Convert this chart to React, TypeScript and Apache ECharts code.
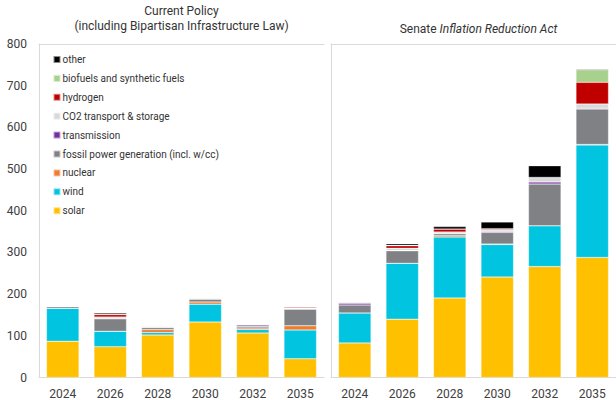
import React, { useEffect, useRef } from "react";
import * as echarts from "echarts";

const categories = ["2024", "2026", "2028", "2030", "2032", "2035"];
const seriesNames = [
  "solar",
  "wind",
  "nuclear",
  "fossil power generation (incl. w/cc)",
  "transmission",
  "CO2 transport & storage",
  "hydrogen",
  "biofuels and synthetic fuels",
  "other",
];
const legendOrder = [
  "other",
  "biofuels and synthetic fuels",
  "hydrogen",
  "CO2 transport & storage",
  "transmission",
  "fossil power generation (incl. w/cc)",
  "nuclear",
  "wind",
  "solar",
];
const colors = ["#FFC000", "#00C4E0", "#ED7D31", "#808184", "#7030A0", "#D9D9D9", "#C00000", "#A9D18E", "#000000"];
const yTicks = [0, 100, 200, 300, 400, 500, 600, 700, 800];

// Current Policy
const curSolar = [87, 74, 102, 133, 107, 45];
const curWind = [79, 37, 6, 43, 8, 69];
const curNuclear = [0, 0, 7, 5, 4, 10];
const curFossil = [4, 30, 5, 7, 4, 40];
const curTransmission = [1, 0, 1, 1, 3, 1];
const curCO2 = [2, 4, 2, 2, 2, 1];
const curHydrogen = [0, 6, 0, 0, 0, 3];
const curBiofuels = [0, 1, 0, 0, 0, 0];
const curOther = [1, 3, 0, 0, 1, 0];

// Senate Inflation Reduction Act
const iraSolar = [83, 140, 191, 241, 266, 288];
const iraWind = [72, 134, 146, 78, 98, 270];
const iraNuclear = [0, 0, 3, 1, 0, 1];
const iraFossil = [19, 30, 5, 28, 100, 85];
const iraTransmission = [4, 1, 0, 2, 5, 2];
const iraCO2 = [3, 5, 4, 4, 10, 10];
const iraHydrogen = [0, 6, 7, 2, 1, 52];
const iraBiofuels = [0, 1, 0, 1, 0, 30];
const iraOther = [1, 4, 6, 16, 28, 2];

const curData = [curSolar, curWind, curNuclear, curFossil, curTransmission, curCO2, curHydrogen, curBiofuels, curOther];
const iraData = [iraSolar, iraWind, iraNuclear, iraFossil, iraTransmission, iraCO2, iraHydrogen, iraBiofuels, iraOther];

const FONT = "Roboto";
const AXIS_GRAY = "#D9D9D9";

export default function App() {
  const ref = useRef<HTMLDivElement>(null);
  useEffect(() => {
    if (!ref.current) return;
    const chart = echarts.init(ref.current, null, { renderer: "svg" });
    const mkSeries = (data: number[][], idx: number, stack: string) =>
      data.map((d, i) => ({
        name: seriesNames[i],
        type: "bar",
        stack,
        xAxisIndex: idx,
        yAxisIndex: idx,
        barWidth: "68.5%",
        data: d,
        itemStyle: { color: colors[i], borderColor: "rgba(255,255,255,0.55)", borderWidth: 0.5 },
      }));
    const xAxisBase = (gridIndex: number) => ({
      type: "category",
      gridIndex,
      data: categories,
      axisLine: { lineStyle: { color: AXIS_GRAY, width: 1 } },
      axisTick: { show: false },
      axisLabel: { color: "#404040", fontSize: 12, fontFamily: FONT, margin: 10 },
    });
    const xTop = (gridIndex: number) => ({
      type: "category",
      gridIndex,
      position: "top",
      data: categories,
      axisLine: { show: true, lineStyle: { color: AXIS_GRAY, width: 1 } },
      axisTick: { show: false },
      axisLabel: { show: false },
    });
    const yBase = (gridIndex: number, labels: boolean) => ({
      type: "value",
      gridIndex,
      min: yTicks[0],
      max: yTicks[yTicks.length - 1],
      interval: 100,
      axisLine: { show: true, lineStyle: { color: AXIS_GRAY, width: 1 } },
      axisTick: { show: false },
      splitLine: { show: false },
      axisLabel: { show: labels, color: "#404040", fontSize: 12, fontFamily: FONT, margin: 12 },
    });
    chart.setOption({
      animation: false,
      textStyle: { fontFamily: FONT },
      title: [
        {
          text: "Current Policy\n(including Bipartisan Infrastructure Law)",
          left: 181.5,
          top: 3,
          padding: [0, 0, 0, 0],
          textAlign: "center",
          textStyle: { fontSize: 12, fontWeight: "normal", color: "#333333", fontFamily: FONT, lineHeight: 15.5 },
        },
        {
          text: "Senate {i|Inflation Reduction Act}",
          left: 478.5,
          top: 21.5,
          padding: [0, 0, 0, 0],
          textAlign: "center",
          textStyle: {
            fontSize: 12,
            fontWeight: "normal",
            color: "#333333",
            fontFamily: FONT,
            lineHeight: 15.5,
            rich: { i: { fontStyle: "italic", fontSize: 12, color: "#333333", fontFamily: FONT, lineHeight: 15.5 } },
          },
        },
      ],
      legend: {
        orient: "vertical",
        left: 52.5,
        top: 54.5,
        padding: 0,
        itemWidth: 7,
        itemHeight: 7,
        itemGap: 8.9,
        icon: "rect",
        data: legendOrder,
        textStyle: { fontSize: 10, color: "#333333", fontFamily: FONT, padding: [0, 0, 0, -3] },
      },
      grid: [
        { left: 39, top: 44, width: 285, height: 333.5 },
        { left: 331, top: 44, width: 295, height: 333.5 },
      ],
      xAxis: [xAxisBase(0), xAxisBase(1), xTop(0), xTop(1)],
      yAxis: [yBase(0, true), yBase(1, false)],
      series: [...mkSeries(curData, 0, "cur"), ...mkSeries(iraData, 1, "ira")],
    });
    return () => chart.dispose();
  }, []);
  return <div ref={ref} style={{ position: "absolute", left: 0, top: 0, width: 616, height: 400 }} />;
}
